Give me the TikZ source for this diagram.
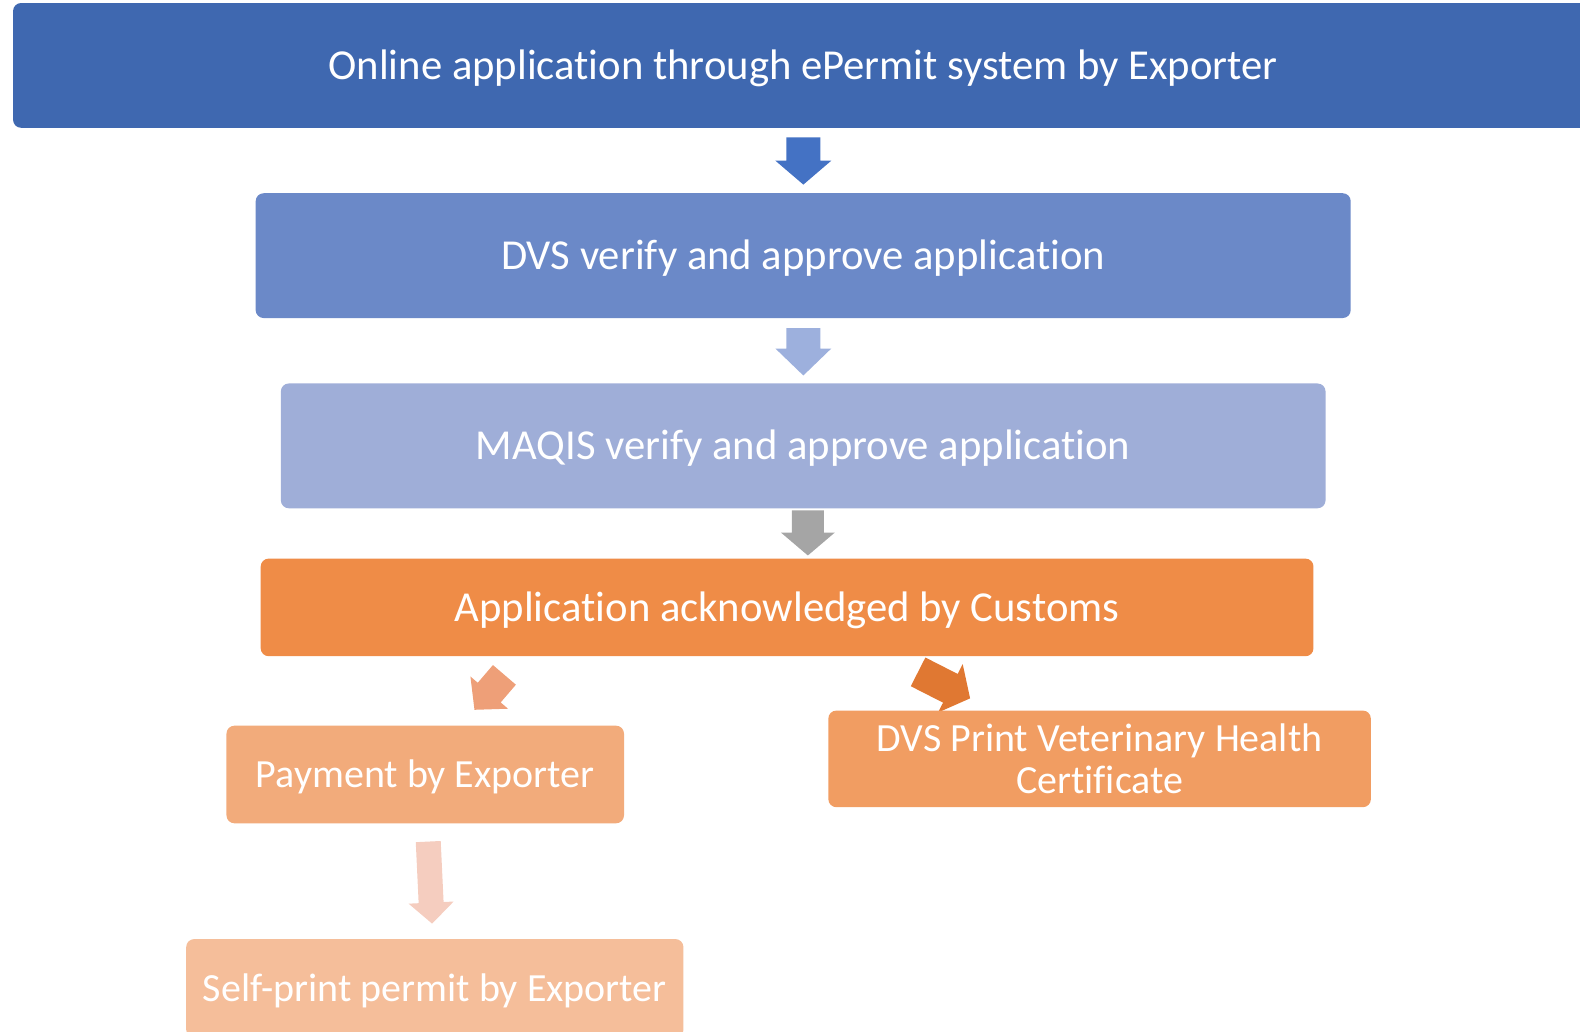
\documentclass[tikz,border=0pt]{standalone}
\usepackage{fontspec}
\setmainfont{Carlito}[Ligatures=NoCommon]
\usetikzlibrary{calc}
\definecolor{cTop}{HTML}{3F68B0}
\definecolor{cDvs}{HTML}{6B89C8}
\definecolor{cMaq}{HTML}{9FAED8}
\definecolor{cCus}{HTML}{EF8C47}
\definecolor{cPay}{HTML}{F2AB7B}
\definecolor{cPrn}{HTML}{F19D62}
\definecolor{cSelf}{HTML}{F5BE9A}
\definecolor{aOne}{HTML}{4472C4}
\definecolor{aTwo}{HTML}{9DB0DD}
\definecolor{aThree}{HTML}{A5A5A5}
\definecolor{aFour}{HTML}{EE9F78}
\definecolor{aFive}{HTML}{E07832}
\definecolor{aSix}{HTML}{F5CDBF}
\pgfdeclarelayer{background}
\pgfsetlayers{background,main}
% block arrow: color, tail centre, angle, length, shaft half, head half, head length
\newcommand{\barrow}[7]{%
  \begin{scope}[shift={#2}, rotate=#3]
    \fill[#1] (0,-#5) -- ({#4-#7},-#5) -- ({#4-#7},-#6) -- (#4,0)
      -- ({#4-#7},#6) -- ({#4-#7},#5) -- (0,#5) -- cycle;
  \end{scope}}
\newcommand{\lowertext}[1]{\raisebox{-1.25pt}[\height][\depth]{#1}}
\begin{document}
\begin{tikzpicture}[x=0.5pt,y=-0.5pt,scale=1.0065,
  box/.style={transform shape, rounded corners=4pt, inner sep=0pt, text=white, align=center,
    font=\fontsize{21.2}{25}\selectfont},
  small/.style={font=\fontsize{19.85}{21}\selectfont}]
\useasboundingbox (0,0) rectangle (1569.8,1025.3);
\clip (0,0) rectangle (1569.8,1025.3);

\node[box, fill=cTop, minimum width=785pt, minimum height=62pt] (online) at (798,65)
  {\lowertext{Online application through ePermit system by Exporter}};
\node[box, fill=cDvs, minimum width=544pt, minimum height=62pt] (dvs) at (798,254)
  {\lowertext{DVS verify and approve application}};
\node[box, fill=cMaq, minimum width=519pt, minimum height=62pt] (maqis) at (798,443)
  {\lowertext{MAQIS verify and approve application}};
\node[box, fill=cCus, minimum width=523pt, minimum height=48.5pt] (customs) at (782,603.5)
  {\lowertext{Application acknowledged by Customs}};
\node[box, small, fill=cPay, minimum width=197.5pt, minimum height=48.5pt] (pay) at (422.5,769.5)
  {\lowertext{Payment by Exporter}};
\node[box, small, fill=cPrn, minimum width=269.5pt, minimum height=48pt] (print) at (1092.5,754)
  {DVS Print Veterinary Health\\Certificate};
\node[box, small, fill=cSelf, minimum width=247pt, minimum height=49pt] (self) at (432,982)
  {\lowertext{Self-print permit by Exporter}};

\begin{pgfonlayer}{background}
\barrow{aOne}{($(online.south)+(0,9)$)}{-90}{47}{16.9}{27.8}{23.8}
\barrow{aTwo}{($(dvs.south)+(0,9.6)$)}{-90}{47}{16.9}{27.8}{26.8}
\barrow{aThree}{($(maqis.south)+(4.5,1.7)$)}{-90}{44.7}{15.9}{26.8}{22.8}
\barrow{aFour}{($(customs.south)+(-281,18)$)}{-130.6}{45.7}{15}{24.6}{22.5}
\barrow{aFive}{($(customs.south)+(130,15)$)}{-27}{58}{16}{27}{22}
\barrow{aSix}{($(pay.south)+(2.9,17.6)$)}{-87.3}{81.6}{12.4}{22.4}{20.9}
\end{pgfonlayer}
\end{tikzpicture}
\end{document}
